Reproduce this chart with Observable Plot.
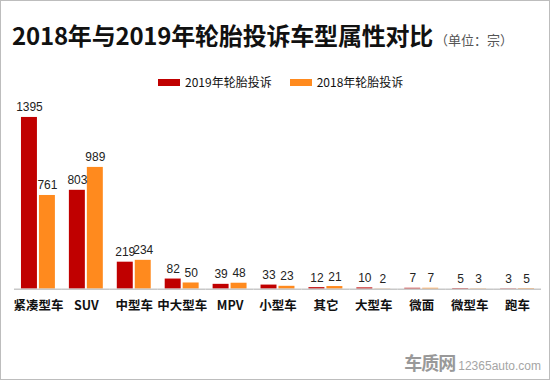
<!DOCTYPE html>
<html><head><meta charset="utf-8">
<script src="https://cdn.jsdelivr.net/npm/d3@7"></script>
<script src="https://cdn.jsdelivr.net/npm/@observablehq/plot@0.6"></script>
<style>
html,body{margin:0;padding:0;background:#fff;}
#wrap{position:relative;width:548px;height:378px;border:1px solid #bdbdbd;overflow:hidden;font-family:"Noto Sans CJK SC","Noto Sans",sans-serif;}
#title{position:absolute;left:11px;top:16px;font-size:24px;font-weight:bold;color:#111;white-space:nowrap;letter-spacing:-0.2px;}
#unit{font-size:13px;font-weight:normal;color:#555;margin-left:2px;letter-spacing:0;}
#legend{position:absolute;top:72px;left:157px;font-size:12px;color:#111;white-space:nowrap;}
#legend span.sw{display:inline-block;width:22px;height:7px;margin-right:5px;vertical-align:1px;}
#legend span.it{margin-right:18px;}
#chart{position:absolute;left:-1px;top:89px;}
#wm{position:absolute;right:8px;bottom:4px;color:#a5a5a5;white-space:nowrap;}
#wm b{font-size:18px;letter-spacing:-1px;color:#999;}
#wm i{font-style:normal;font-size:12px;font-family:Arial,"Liberation Sans",sans-serif;margin-left:3px;}
</style></head>
<body>
<div id="wrap">
  <div id="title">2018年与2019年轮胎投诉车型属性对比<span id="unit">（单位：宗）</span></div>
  <div id="legend"></div>
  <div id="chart"></div>
  <div id="wm"><b>车质网</b><i>12365auto.com</i></div>
</div>
<script>
const categories = ["紧凑型车","SUV","中型车","中大型车","MPV","小型车","其它","大型车","微面","微型车","跑车"];
const series = ["2019年轮胎投诉","2018年轮胎投诉"];
const values2019 = [1395,803,219,82,39,33,12,10,7,5,3];
const values2018 = [761,989,234,50,48,23,21,2,7,3,5];
const colors = ["#c00000","#ff8a1e"];

const data = [];
categories.forEach((c,i)=>{
  data.push({cat:c, s:series[0], v:values2019[i]});
  data.push({cat:c, s:series[1], v:values2018[i]});
});

const lg = document.getElementById("legend");
series.forEach((s,i)=>{
  lg.insertAdjacentHTML("beforeend", `<span class="it"><span class="sw" style="background:${colors[i]}"></span>${s}</span>`);
});

const chart = Plot.plot({
  width: 550,
  height: 230,
  marginLeft: 14,
  marginRight: 8,
  marginTop: 27,
  marginBottom: 31,
  style: {fontFamily: '"Noto Sans CJK SC","Noto Sans",sans-serif', background: "transparent"},
  fx: {domain: categories, paddingInner: 0.25, paddingOuter: 0.125, label: null, axis: null},
  x: {domain: series, paddingInner: 0.1, paddingOuter: 0, axis: null},
  y: {domain: [0, 1395], axis: null},
  color: {domain: series, range: colors},
  marks: [
    Plot.barY(data, {fx: "cat", x: "s", y: "v", fill: "s"}),
    Plot.ruleY([0], {stroke: "#c8c8c8", strokeWidth: 1.5, insetLeft: -6, insetRight: -6}),
    Plot.text(data, {fx: "cat", x: "s", y: "v", text: d => String(d.v), lineAnchor: "bottom", dy: -6, fontSize: 12, fontFamily: '"Liberation Sans",Arial,sans-serif', fill: "#222"}),
    Plot.axisFx({anchor: "bottom", tickSize: 0, tickPadding: 12, fontSize: 12.5, fontWeight: "bold", fill: "#111", label: null})
  ]
});
document.getElementById("chart").appendChild(chart);
</script>
</body></html>
